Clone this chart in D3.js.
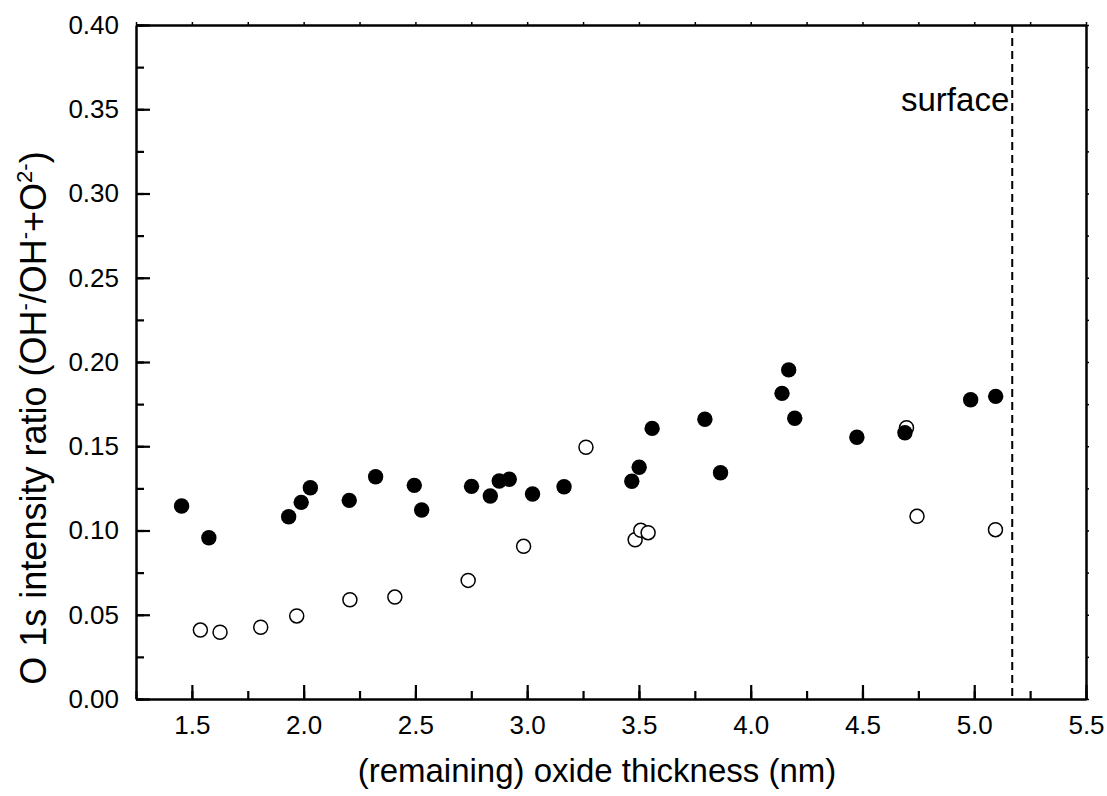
<!DOCTYPE html>
<html>
<head>
<meta charset="utf-8">
<script src="https://cdn.jsdelivr.net/npm/d3@7"></script>
<style>
  body { margin: 0; background: #fff; overflow: hidden; }
  svg { display: block; }
  text { font-family: "Liberation Sans", Arial, sans-serif; fill: #000; }
</style>
</head>
<body>
<div id="chart"></div>
<script>
// filled circles (OH-/OH-+O2-)
var filledX = [1.454, 1.576, 1.933, 1.989, 2.030, 2.204, 2.322, 2.495, 2.528, 2.751,
               2.835, 2.875, 2.920, 3.024, 3.165, 3.468, 3.501, 3.559, 3.795, 3.865,
               4.140, 4.170, 4.197, 4.475, 4.690, 4.984, 5.096];
var filledY = [0.1145, 0.0957, 0.1082, 0.1167, 0.1254, 0.1179, 0.1319, 0.1268, 0.1122, 0.1262,
               0.1205, 0.1294, 0.1304, 0.1217, 0.1260, 0.1292, 0.1375, 0.1606, 0.1660, 0.1343,
               0.1814, 0.1953, 0.1666, 0.1553, 0.1580, 0.1776, 0.1796];
// open circles
var openX = [1.538, 1.626, 1.808, 1.969, 2.207, 2.408, 2.736, 2.984, 3.263, 3.483,
             3.508, 3.541, 4.697, 4.744, 5.095];
var openY = [0.0409, 0.0396, 0.0426, 0.0493, 0.0589, 0.0605, 0.0704, 0.0906, 0.1494, 0.0945,
             0.1001, 0.0987, 0.1610, 0.1084, 0.1005];

var xTicks = [1.5, 2.0, 2.5, 3.0, 3.5, 4.0, 4.5, 5.0, 5.5];
var yTicks = [0.00, 0.05, 0.10, 0.15, 0.20, 0.25, 0.30, 0.35, 0.40];
var surfaceX = 5.17;

var width = 1107,
    height = 796,
    margin = {top: 25, right: 21, bottom: 97, left: 136},
    innerWidth = width - margin.left - margin.right,
    innerHeight = height - margin.top - margin.bottom;

var xScale = d3.scaleLinear().domain([1.25, 5.5]).range([0, innerWidth]),
    yScale = d3.scaleLinear().domain([0, 0.40]).range([innerHeight, 0]);

var xMinor = d3.range(1.25, 5.51, 0.25),
    yMinor = d3.range(0, 0.401, 0.025);

var svg = d3.select("#chart").append("svg")
    .attr("width", width)
    .attr("height", height)
  .append("g")
    .attr("transform", "translate(" + margin.left + "," + margin.top + ")");

// minor ticks first (inward), then major axes on top
svg.append("g")
    .attr("transform", "translate(0," + innerHeight + ")")
    .call(d3.axisTop(xScale).tickValues(xMinor).tickSize(8).tickFormat(""))
    .call(function(g){ g.select(".domain").remove(); })
    .selectAll("line").attr("stroke-width", 2.2);

svg.append("g")
    .call(d3.axisRight(yScale).tickValues(yMinor).tickSize(8).tickFormat(""))
    .call(function(g){ g.select(".domain").remove(); })
    .selectAll("line").attr("stroke-width", 2.2);

var xAxis = svg.append("g")
    .attr("class", "axis axis-x")
    .attr("transform", "translate(0," + innerHeight + ")")
    .call(d3.axisBottom(xScale).tickValues(xTicks).tickSizeInner(-14).tickSizeOuter(0)
          .tickPadding(17).tickFormat(d3.format(".1f")));
xAxis.select(".domain").attr("stroke-width", 2.5);
xAxis.selectAll("line").attr("stroke-width", 2.2);
xAxis.selectAll("text").attr("font-size", 26).attr("dy", "0.71em");

var yAxis = svg.append("g")
    .attr("class", "axis axis-y")
    .call(d3.axisLeft(yScale).tickValues(yTicks).tickSizeInner(-14).tickSizeOuter(0)
          .tickPadding(17).tickFormat(d3.format(".2f")));
yAxis.select(".domain").attr("stroke-width", 2.5);
yAxis.selectAll("line").attr("stroke-width", 2.2);
yAxis.selectAll("text").attr("font-size", 26);

// top and right axes with small outward ticks
svg.append("g")
    .call(d3.axisTop(xScale).tickValues(xMinor).tickSize(3).tickSizeOuter(0).tickFormat(""))
    .call(function(g){
      g.select(".domain").attr("stroke-width", 2.5);
      g.selectAll("line").attr("stroke-width", 1.5);
    });

svg.append("g")
    .attr("transform", "translate(" + innerWidth + ",0)")
    .call(d3.axisRight(yScale).tickValues(yMinor).tickSize(3).tickSizeOuter(0).tickFormat(""))
    .call(function(g){
      g.select(".domain").attr("stroke-width", 2.5);
      g.selectAll("line").attr("stroke-width", 1.5);
    });

// surface line
svg.append("line")
    .attr("x1", xScale(surfaceX)).attr("x2", xScale(surfaceX))
    .attr("y1", 0).attr("y2", innerHeight)
    .attr("stroke", "#000")
    .attr("stroke-width", 2)
    .attr("stroke-dasharray", "8,5");

svg.append("text")
    .attr("x", xScale(surfaceX) - 3)
    .attr("y", 86)
    .attr("text-anchor", "end")
    .attr("font-size", 33)
    .text("surface");

// points
svg.append("g").selectAll("circle")
    .data(openX).enter()
    .append("circle")
      .attr("cx", function(d){ return xScale(d); })
      .attr("cy", function(d, i){ return yScale(openY[i]); })
      .attr("r", 7)
      .attr("fill", "#fff")
      .attr("stroke", "#000")
      .attr("stroke-width", 1.5);

svg.append("g").selectAll("circle")
    .data(filledX).enter()
    .append("circle")
      .attr("cx", function(d){ return xScale(d); })
      .attr("cy", function(d, i){ return yScale(filledY[i]); })
      .attr("r", 7.7)
      .attr("fill", "#000");

// axis titles
svg.append("text")
    .attr("x", innerWidth / 2 - 14)
    .attr("y", innerHeight + 83)
    .attr("text-anchor", "middle")
    .attr("font-size", 33)
    .text("(remaining) oxide thickness (nm)");

var yTitle = svg.append("text")
    .attr("transform", "translate(" + (46 - margin.left) + "," + (418 - margin.top) + ") rotate(-90)")
    .attr("text-anchor", "middle")
    .attr("font-size", 36);
yTitle.append("tspan").text("O 1s intensity ratio (OH");
yTitle.append("tspan").attr("dy", -14).attr("font-size", 22).text("-");
yTitle.append("tspan").attr("dy", 14).text("/OH");
yTitle.append("tspan").attr("dy", -14).attr("font-size", 22).text("-");
yTitle.append("tspan").attr("dy", 14).text("+O");
yTitle.append("tspan").attr("dy", -14).attr("font-size", 22).text("2-");
yTitle.append("tspan").attr("dy", 14).text(")");
</script>
</body>
</html>
